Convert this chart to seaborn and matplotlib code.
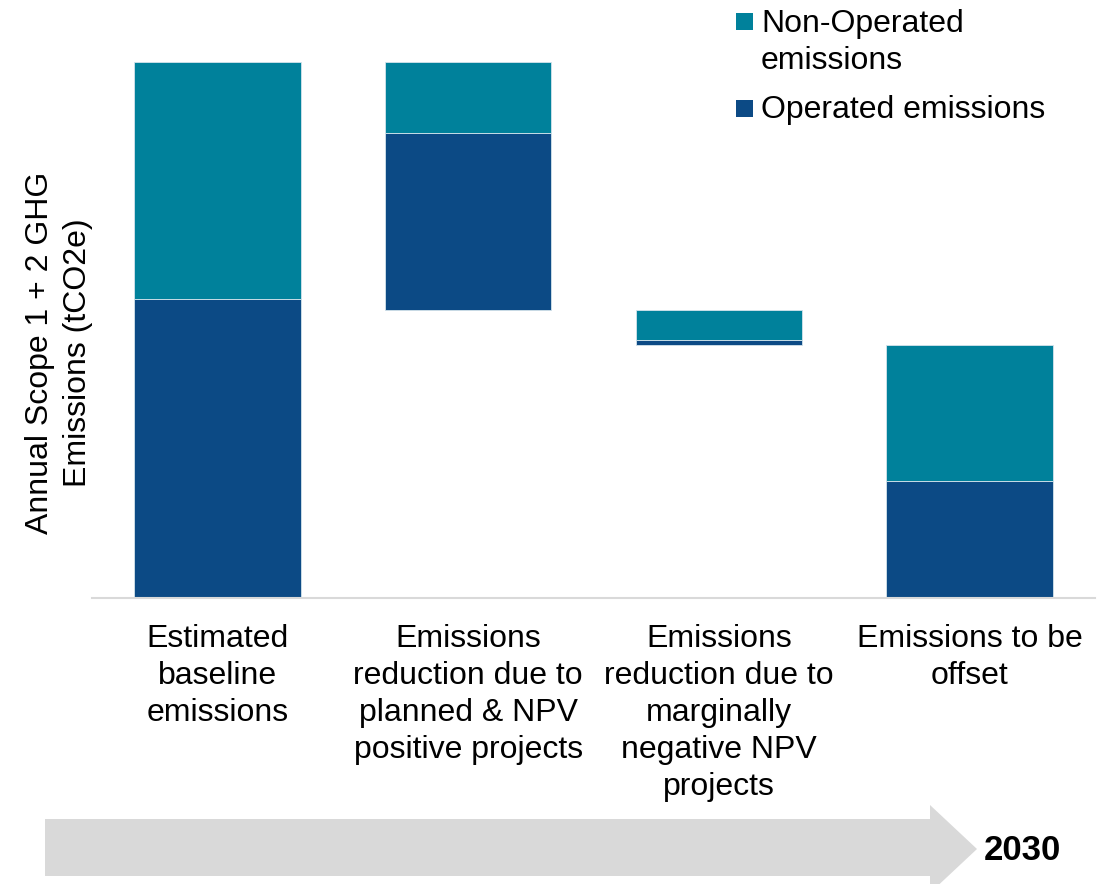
import matplotlib
matplotlib.use("Agg")
import matplotlib.pyplot as plt
from matplotlib.patches import Polygon, Rectangle
import numpy as np
import pandas as pd
import seaborn as sns

# Waterfall of annual Scope 1 + 2 emissions (relative units)
categories = [
    "Estimated\nbaseline\nemissions",
    "Emissions\nreduction due to\nplanned & NPV\npositive projects",
    "Emissions\nreduction due to\nmarginally\nnegative NPV\nprojects",
    "Emissions to be\noffset",
]
operated = [299, 177, 5, 117]
non_operated = [237, 71, 30, 136]
step_kind = ["total", "reduction", "reduction", "total"]

legend_labels = ["Non-Operated\nemissions", "Operated emissions"]
milestone = "2030"
y_label = "Annual Scope 1 + 2 GHG\nEmissions (tCO2e)"

TEAL = "#00819B"
NAVY = "#0C4A85"
FS = 23

sns.set_theme(style="white")
plt.rcParams["font.family"] = ["Liberation Sans", "DejaVu Sans"]
plt.rcParams["text.color"] = "black"

# waterfall bottoms: reductions float below the running total
op = np.array(operated, dtype=float)
nop = np.array(non_operated, dtype=float)
op_bottom = np.zeros(len(categories))
running = 0.0
for i, kind in enumerate(step_kind):
    total = op[i] + nop[i]
    if kind == "total":
        op_bottom[i] = 0.0
        running = total
    else:
        running = running - total
        op_bottom[i] = running
nop_bottom = op_bottom + op

df = pd.DataFrame({"category": categories, "operated": op, "non_operated": nop})

W, H = 1110, 884
fig = plt.figure(figsize=(W / 100, H / 100), dpi=100)
ax = fig.add_axes([92 / W, 1 - 598 / H, (1095 - 92) / W, 536 / H])


def fy(y):
    return 1 - y / H


ymax = (op + nop).max()
sns.barplot(data=df, x="category", y="operated", order=categories, ax=ax,
            color=NAVY, saturation=1, width=0.664, bottom=op_bottom,
            edgecolor="#d5e4ec", linewidth=0.6)
sns.barplot(data=df, x="category", y="non_operated", order=categories, ax=ax,
            color=TEAL, saturation=1, width=0.664, bottom=nop_bottom,
            edgecolor="#d5e4ec", linewidth=0.6)

ax.set_xlim(-0.5, 3.5)
ax.set_ylim(0, ymax)
ax.set_xlabel("")
ax.set_ylabel("")
ax.set_yticks([])
for s in ["top", "right", "left"]:
    ax.spines[s].set_visible(False)
ax.spines["bottom"].set_color("#D9D9D9")
ax.spines["bottom"].set_linewidth(1.5)
ax.tick_params(axis="x", length=0, pad=19, labelsize=FS, colors="black")
for t in ax.get_xticklabels():
    t.set_linespacing(1.30)
    t.set_ha("center")

# two-line vertical axis title, each line placed on its own baseline
for line, base_x in zip(y_label.split("\n"), [48, 86]):
    fig.text(base_x / W, fy(353), line, rotation=90, rotation_mode="anchor",
             ha="center", va="baseline", fontsize=FS, color="black")

# legend: colour squares beside the series names
for (label, color, sq_top, base) in [(legend_labels[0], TEAL, 13, 32),
                                     (legend_labels[1], NAVY, 100, 118)]:
    fig.patches.append(Rectangle((736 / W, fy(sq_top + 17)), 17 / W, 17 / H,
                                 transform=fig.transFigure, facecolor=color,
                                 edgecolor="none"))
    for k, part in enumerate(label.split("\n")):
        fig.text(761 / W, fy(base + 37 * k), part, ha="left", va="baseline",
                 fontsize=FS, color="black")

# timeline arrow along the bottom
pts = [(45, 819), (930, 819), (930, 805), (977, 849), (930, 893),
       (930, 876), (45, 876)]
fig_pts = [(x / W, fy(y)) for x, y in pts]
fig.patches.append(Polygon(fig_pts, closed=True, transform=fig.transFigure,
                           facecolor="#D9D9D9", edgecolor="none", zorder=0))
fig.text(1022 / W, fy(850), milestone, ha="center", va="center",
         fontsize=25, fontweight="bold",
         family=["Liberation Sans Narrow", "Liberation Sans", "DejaVu Sans"])

fig.savefig("out.png", dpi=100)
